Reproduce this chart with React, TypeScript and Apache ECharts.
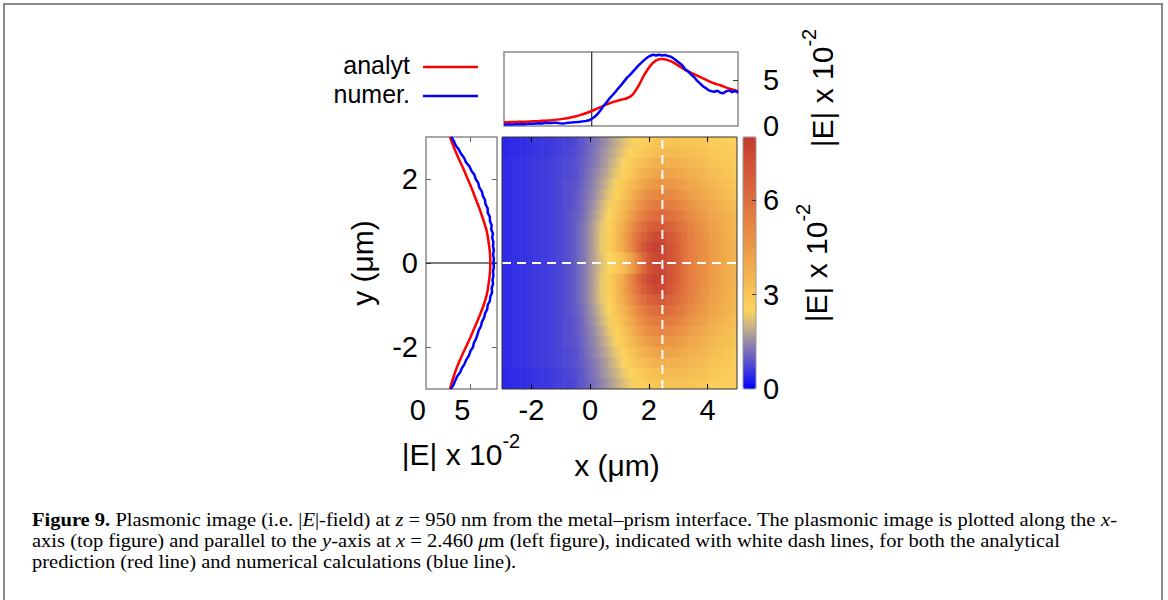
import React, { useEffect, useRef } from 'react';
import * as echarts from 'echarts';

// Grid of the |E| map: cell centres (µm) and values (×10^-2), rows listed top to bottom.
const X_CENTERS = [
  -2.875, -2.625, -2.375, -2.125, -1.875, -1.625, -1.375, -1.125, -0.875, -0.625, -0.375, -0.125,
  0.125, 0.375, 0.625, 0.875, 1.125, 1.375, 1.625, 1.875, 2.125, 2.375, 2.625, 2.875,
  3.125, 3.375, 3.625, 3.875, 4.125, 4.375, 4.625, 4.875,
];
const Y_ROWS = [
  2.875, 2.625, 2.375, 2.125, 1.875, 1.625, 1.375, 1.125, 0.875, 0.625, 0.375, 0.125,
  -0.125, -0.375, -0.625, -0.875, -1.125, -1.375, -1.625, -1.875, -2.125, -2.375, -2.625, -2.875,
];
const FIELD_ROWS: number[][] = [
  [0.4, 0.45, 0.45, 0.5, 0.55, 0.55, 0.6, 0.65, 0.7, 0.7, 0.85, 1.0, 1.2, 1.4, 1.65, 1.9, 2.15, 2.4, 2.6, 2.8, 2.95, 3.05, 3.1, 3.1, 3.1, 3.05, 3.0, 2.95, 2.85, 2.8, 2.7, 2.65],
  [0.4, 0.45, 0.45, 0.5, 0.55, 0.55, 0.6, 0.65, 0.7, 0.75, 0.85, 1.05, 1.25, 1.5, 1.75, 2.0, 2.3, 2.55, 2.8, 3.0, 3.2, 3.35, 3.4, 3.4, 3.35, 3.3, 3.2, 3.1, 3.0, 2.9, 2.8, 2.75],
  [0.45, 0.5, 0.5, 0.55, 0.6, 0.6, 0.65, 0.7, 0.75, 0.8, 0.9, 1.1, 1.3, 1.55, 1.85, 2.15, 2.45, 2.8, 3.1, 3.4, 3.6, 3.75, 3.8, 3.75, 3.65, 3.55, 3.4, 3.3, 3.15, 3.05, 2.95, 2.85],
  [0.45, 0.5, 0.5, 0.55, 0.6, 0.6, 0.65, 0.7, 0.75, 0.8, 0.9, 1.15, 1.4, 1.65, 1.95, 2.3, 2.65, 3.05, 3.45, 3.8, 4.05, 4.2, 4.2, 4.1, 3.95, 3.8, 3.65, 3.5, 3.35, 3.2, 3.05, 2.95],
  [0.45, 0.5, 0.5, 0.55, 0.6, 0.6, 0.65, 0.7, 0.8, 0.85, 0.95, 1.2, 1.45, 1.75, 2.1, 2.45, 2.9, 3.35, 3.8, 4.2, 4.5, 4.65, 4.65, 4.5, 4.3, 4.1, 3.9, 3.7, 3.55, 3.35, 3.2, 3.05],
  [0.45, 0.5, 0.5, 0.55, 0.6, 0.6, 0.65, 0.7, 0.8, 0.85, 1.0, 1.25, 1.5, 1.85, 2.25, 2.65, 3.1, 3.65, 4.2, 4.7, 5.0, 5.15, 5.1, 4.9, 4.65, 4.4, 4.15, 3.95, 3.75, 3.55, 3.35, 3.2],
  [0.45, 0.5, 0.5, 0.55, 0.6, 0.6, 0.65, 0.7, 0.8, 0.85, 1.0, 1.3, 1.6, 2.0, 2.4, 2.85, 3.35, 3.95, 4.6, 5.15, 5.5, 5.65, 5.6, 5.35, 5.05, 4.75, 4.45, 4.2, 3.95, 3.75, 3.55, 3.35],
  [0.45, 0.5, 0.5, 0.55, 0.6, 0.6, 0.65, 0.7, 0.8, 0.9, 1.05, 1.35, 1.7, 2.1, 2.5, 3.0, 3.6, 4.3, 5.0, 5.6, 6.05, 6.2, 6.1, 5.8, 5.45, 5.05, 4.7, 4.4, 4.15, 3.9, 3.7, 3.5],
  [0.45, 0.5, 0.5, 0.55, 0.6, 0.6, 0.65, 0.7, 0.8, 0.9, 1.1, 1.4, 1.8, 2.25, 2.65, 3.2, 3.9, 4.7, 5.5, 6.2, 6.65, 6.8, 6.65, 6.25, 5.8, 5.35, 4.95, 4.6, 4.3, 4.0, 3.8, 3.6],
  [0.45, 0.5, 0.5, 0.55, 0.6, 0.6, 0.65, 0.7, 0.8, 0.9, 1.1, 1.4, 1.8, 2.3, 2.7, 3.3, 4.1, 5.0, 6.0, 6.8, 7.4, 7.5, 7.2, 6.6, 6.0, 5.5, 5.1, 4.7, 4.4, 4.1, 3.85, 3.65],
  [0.45, 0.5, 0.5, 0.55, 0.6, 0.6, 0.65, 0.7, 0.8, 0.9, 1.1, 1.4, 1.8, 2.3, 2.7, 3.3, 4.0, 5.0, 6.2, 7.2, 7.75, 7.7, 7.35, 6.8, 6.1, 5.55, 5.15, 4.8, 4.45, 4.15, 3.9, 3.7],
  [0.45, 0.5, 0.5, 0.55, 0.6, 0.6, 0.65, 0.7, 0.8, 0.9, 1.1, 1.4, 1.8, 2.2, 2.5, 2.85, 3.3, 4.1, 5.3, 6.6, 7.4, 7.55, 7.3, 6.8, 6.1, 5.55, 5.15, 4.8, 4.45, 4.15, 3.9, 3.7],
  [0.45, 0.5, 0.5, 0.55, 0.6, 0.6, 0.65, 0.7, 0.8, 0.9, 1.1, 1.4, 1.8, 2.2, 2.5, 2.85, 3.3, 4.1, 5.3, 6.6, 7.4, 7.55, 7.3, 6.8, 6.1, 5.55, 5.15, 4.8, 4.45, 4.15, 3.9, 3.7],
  [0.45, 0.5, 0.5, 0.55, 0.6, 0.6, 0.65, 0.7, 0.8, 0.9, 1.1, 1.4, 1.8, 2.3, 2.7, 3.3, 4.0, 5.0, 6.2, 7.2, 7.75, 7.7, 7.35, 6.8, 6.1, 5.55, 5.15, 4.8, 4.45, 4.15, 3.9, 3.7],
  [0.45, 0.5, 0.5, 0.55, 0.6, 0.6, 0.65, 0.7, 0.8, 0.9, 1.1, 1.4, 1.8, 2.3, 2.7, 3.3, 4.1, 5.0, 6.0, 6.8, 7.4, 7.5, 7.2, 6.6, 6.0, 5.5, 5.1, 4.7, 4.4, 4.1, 3.85, 3.65],
  [0.45, 0.5, 0.5, 0.55, 0.6, 0.6, 0.65, 0.7, 0.8, 0.9, 1.1, 1.4, 1.8, 2.25, 2.65, 3.2, 3.9, 4.7, 5.5, 6.2, 6.65, 6.8, 6.65, 6.25, 5.8, 5.35, 4.95, 4.6, 4.3, 4.0, 3.8, 3.6],
  [0.45, 0.5, 0.5, 0.55, 0.6, 0.6, 0.65, 0.7, 0.8, 0.9, 1.05, 1.35, 1.7, 2.1, 2.5, 3.0, 3.6, 4.3, 5.0, 5.6, 6.05, 6.2, 6.1, 5.8, 5.45, 5.05, 4.7, 4.4, 4.15, 3.9, 3.7, 3.5],
  [0.45, 0.5, 0.5, 0.55, 0.6, 0.6, 0.65, 0.7, 0.8, 0.85, 1.0, 1.3, 1.6, 2.0, 2.4, 2.85, 3.35, 3.95, 4.6, 5.15, 5.5, 5.65, 5.6, 5.35, 5.05, 4.75, 4.45, 4.2, 3.95, 3.75, 3.55, 3.35],
  [0.45, 0.5, 0.5, 0.55, 0.6, 0.6, 0.65, 0.7, 0.8, 0.85, 1.0, 1.25, 1.5, 1.85, 2.25, 2.65, 3.1, 3.65, 4.2, 4.7, 5.0, 5.15, 5.1, 4.9, 4.65, 4.4, 4.15, 3.95, 3.75, 3.55, 3.35, 3.2],
  [0.45, 0.5, 0.5, 0.55, 0.6, 0.6, 0.65, 0.7, 0.8, 0.85, 0.95, 1.2, 1.45, 1.75, 2.1, 2.45, 2.9, 3.35, 3.8, 4.2, 4.5, 4.65, 4.65, 4.5, 4.3, 4.1, 3.9, 3.7, 3.55, 3.35, 3.2, 3.05],
  [0.45, 0.5, 0.5, 0.55, 0.6, 0.6, 0.65, 0.7, 0.75, 0.8, 0.9, 1.15, 1.4, 1.65, 1.95, 2.3, 2.65, 3.05, 3.45, 3.8, 4.05, 4.2, 4.2, 4.1, 3.95, 3.8, 3.65, 3.5, 3.35, 3.2, 3.05, 2.95],
  [0.45, 0.5, 0.5, 0.55, 0.6, 0.6, 0.65, 0.7, 0.75, 0.8, 0.9, 1.1, 1.3, 1.55, 1.85, 2.15, 2.45, 2.8, 3.1, 3.4, 3.6, 3.75, 3.8, 3.75, 3.65, 3.55, 3.4, 3.3, 3.15, 3.05, 2.95, 2.85],
  [0.4, 0.45, 0.45, 0.5, 0.55, 0.55, 0.6, 0.65, 0.7, 0.75, 0.85, 1.05, 1.25, 1.5, 1.75, 2.0, 2.3, 2.55, 2.8, 3.0, 3.2, 3.35, 3.4, 3.4, 3.35, 3.3, 3.2, 3.1, 3.0, 2.9, 2.8, 2.75],
  [0.4, 0.45, 0.45, 0.5, 0.55, 0.55, 0.6, 0.65, 0.7, 0.7, 0.85, 1.0, 1.2, 1.4, 1.65, 1.9, 2.15, 2.4, 2.6, 2.8, 2.95, 3.05, 3.1, 3.1, 3.1, 3.05, 3.0, 2.95, 2.85, 2.8, 2.7, 2.65],
];

// Map extent (µm) and colour scale for |E| (0 … 8 ×10^-2), evenly spaced stops.
const X_RANGE = [-3, 5];
const Y_RANGE = [-3, 3];
const E_RANGE = [0, 8];
const COLOR_STOPS = [
  '#0000ff', '#3430e4', '#675fc4', '#988aa8', '#cbb486', '#fdd55d', '#f8c656', '#f4b750',
  '#f0a84b', '#ec9946', '#e88a43', '#e47c40', '#df6e3d', '#d9613a', '#d35537', '#cb4833', '#c23b2e',
];

// Cut positions marked by the white dashed lines.
const CUT_X = 2.46;
const CUT_Y = 0;

// Profile along x at y = 0 (top panel).
const TOP_ANALYT_X = [
  -3, -2.8, -2.6, -2.4, -2.2, -2, -1.8, -1.6, -1.4, -1.2, -1, -0.8, -0.6, -0.4, -0.2, 0,
  0.2, 0.4, 0.6, 0.8, 1, 1.2, 1.4, 1.6, 1.8, 2, 2.2, 2.4, 2.6, 2.8, 3, 3.2, 3.4, 3.6, 3.8, 4,
  4.2, 4.4, 4.6, 4.8, 5,
];
const TOP_ANALYT = [
  0.4, 0.42, 0.44, 0.46, 0.48, 0.51, 0.54, 0.58, 0.63, 0.69, 0.77, 0.87, 1.0, 1.17, 1.38, 1.62,
  1.9, 2.18, 2.45, 2.66, 2.83, 3.0, 3.4, 4.35, 5.55, 6.5, 7.1, 7.25, 7.12, 6.85, 6.45, 6.05, 5.75, 5.45, 5.15, 4.85,
  4.6, 4.4, 4.15, 3.95, 3.75,
];
const TOP_NUMER_X = [
  -3, -2.9, -2.8, -2.7, -2.6, -2.5, -2.4, -2.3, -2.2, -2.1,
  -2, -1.9, -1.8, -1.7, -1.6, -1.5, -1.4, -1.3, -1.2, -1.1,
  -1, -0.9, -0.8, -0.7, -0.6, -0.5, -0.4, -0.3, -0.2, -0.1,
  0, 0.1, 0.2, 0.3, 0.4, 0.5, 0.6, 0.7, 0.8, 0.9,
  1, 1.1, 1.2, 1.3, 1.4, 1.5, 1.6, 1.7, 1.8, 1.9,
  2, 2.1, 2.2, 2.3, 2.4, 2.5, 2.6, 2.7, 2.8, 2.9,
  3, 3.1, 3.2, 3.3, 3.4, 3.5, 3.6, 3.7, 3.8, 3.9,
  4, 4.1, 4.2, 4.3, 4.4, 4.5, 4.6, 4.7, 4.8, 4.9, 5,
];
const TOP_NUMER = [
  0.15, 0.16, 0.18, 0.17, 0.2, 0.19, 0.22, 0.2, 0.23, 0.25,
  0.24, 0.27, 0.3, 0.28, 0.32, 0.35, 0.33, 0.36, 0.34, 0.3,
  0.28, 0.31, 0.35, 0.37, 0.4, 0.42, 0.45, 0.5, 0.55, 0.62,
  0.78, 1.0, 1.3, 1.7, 2.15, 2.55, 2.95, 3.3, 3.65, 4.05,
  4.4, 4.8, 5.2, 5.5, 5.85, 6.2, 6.55, 6.85, 7.15, 7.4,
  7.6, 7.7, 7.62, 7.7, 7.62, 7.68, 7.58, 7.5, 7.3, 7.05,
  6.8, 6.55, 6.1, 5.9, 5.55, 5.3, 4.9, 4.6, 4.3, 4.1,
  3.85, 3.75, 3.7, 3.82, 3.6, 3.55, 3.75, 3.85, 3.65, 3.8, 3.6,
];

// Profile along y at x = 2.460 µm (left panel).
const LEFT_ANALYT_Y = [
  -3, -2.75, -2.5, -2.25, -2, -1.75, -1.5, -1.25, -1, -0.75, -0.5, -0.25, 0,
  0.25, 0.5, 0.75, 1, 1.25, 1.5, 1.75, 2, 2.25, 2.5, 2.75, 3,
];
const LEFT_ANALYT = [
  2.7, 3.05, 3.45, 3.95, 4.5, 5.05, 5.55, 6.05, 6.5, 6.85, 7.05, 7.2, 7.25,
  7.2, 7.05, 6.85, 6.5, 6.1, 5.65, 5.2, 4.7, 4.2, 3.65, 3.15, 2.7,
];
const LEFT_NUMER_Y = [
  -3, -2.9, -2.8, -2.7, -2.6, -2.5, -2.4, -2.3, -2.2, -2.1,
  -2, -1.9, -1.8, -1.7, -1.6, -1.5, -1.4, -1.3, -1.2, -1.1,
  -1, -0.9, -0.8, -0.7, -0.6, -0.5, -0.4, -0.3, -0.2, -0.1,
  0, 0.1, 0.2, 0.3, 0.4, 0.5, 0.6, 0.7, 0.8, 0.9,
  1, 1.1, 1.2, 1.3, 1.4, 1.5, 1.6, 1.7, 1.8, 1.9,
  2, 2.1, 2.2, 2.3, 2.4, 2.5, 2.6, 2.7, 2.8, 2.9, 3,
];
const LEFT_NUMER = [
  2.8, 3.1, 3.3, 3.5, 3.85, 4.05, 4.35, 4.55, 4.85, 5.0,
  5.3, 5.4, 5.65, 5.8, 5.95, 6.2, 6.3, 6.55, 6.65, 6.9,
  6.95, 7.2, 7.25, 7.45, 7.4, 7.55, 7.5, 7.6, 7.55, 7.65,
  7.6, 7.65, 7.55, 7.65, 7.55, 7.6, 7.45, 7.55, 7.35, 7.4,
  7.2, 7.2, 6.95, 6.95, 6.7, 6.65, 6.4, 6.3, 6.0, 5.9,
  5.6, 5.45, 5.1, 4.9, 4.5, 4.3, 3.95, 3.7, 3.35, 3.15, 2.85,
];

// Tick positions.
const MAP_X_TICKS = [-2, 0, 2, 4];
const MAP_Y_TICKS = [-2, 0, 2];
const TOP_E_TICKS = [0, 5];
const LEFT_E_TICKS = [0, 5];
const CBAR_TICKS = [0, 3, 6];

const SANS = "'Liberation Sans', Arial, sans-serif";
const SERIF = "'Liberation Serif', 'Times New Roman', serif";
const RED = '#ff0000';
const BLUE = '#0000ff';

const pairs = (xs: number[], ys: number[]) => xs.map((x, i) => [x, ys[i]]);

const tickLabel = { color: '#000', fontSize: 29, fontFamily: SANS };
const noLine = { show: false, onZero: false };

const eColor = (v: number) =>
  echarts.color.lerp((v - E_RANGE[0]) / (E_RANGE[1] - E_RANGE[0]), COLOR_STOPS) as string;

// Map strips: each item spans two neighbouring cell centres in a row and is shaded
// between their colours; the outermost half cells keep their own value.
function buildMapItems() {
  const items: number[][] = [];
  FIELD_ROWS.forEach((row, j) => {
    const y = Y_ROWS[j];
    const last = row.length - 1;
    items.push([X_RANGE[0], X_CENTERS[0], y, row[0], row[0]]);
    for (let i = 0; i < last; i++) {
      items.push([X_CENTERS[i], X_CENTERS[i + 1], y, row[i], row[i + 1]]);
    }
    items.push([X_CENTERS[last], X_RANGE[1], y, row[last], row[last]]);
  });
  return items;
}

function buildOption() {
  const halfRow = Math.abs(Y_ROWS[0] - Y_ROWS[1]) / 2;

  const eTitle = (x: number, y: number, rotated: boolean) => ({
    type: 'text',
    x,
    y,
    rotation: rotated ? Math.PI / 2 : 0,
    style: {
      text: '{a||E| x 10}{s|-2}',
      align: 'center',
      verticalAlign: 'middle',
      fill: '#000',
      rich: {
        a: { fontSize: 30, lineHeight: 46, fontFamily: SANS, fill: '#000' },
        s: { fontSize: 20, verticalAlign: 'top', fontFamily: SANS, fill: '#000' },
      },
    },
  });

  return {
    animation: false,
    textStyle: { fontFamily: SANS },
    grid: [
      { left: 502, top: 137, width: 235, height: 252, show: true, borderColor: '#333', borderWidth: 1, backgroundColor: 'transparent', z: 6 },
      { left: 504, top: 52, width: 234, height: 74, show: true, borderColor: '#8a8a8a', borderWidth: 1.5, backgroundColor: 'transparent' },
      { left: 426, top: 137, width: 71, height: 252, show: true, borderColor: '#8a8a8a', borderWidth: 1.5, backgroundColor: 'transparent' },
      { left: 743, top: 137, width: 13, height: 252, show: true, borderColor: '#999', borderWidth: 1, backgroundColor: 'transparent', z: 6 },
    ],
    xAxis: [
      {
        type: 'value', gridIndex: 0, min: X_RANGE[0], max: X_RANGE[1], position: 'bottom', z: 7,
        axisLine: noLine, splitLine: { show: false },
        axisTick: { inside: true, length: 5, customValues: MAP_X_TICKS, lineStyle: { color: '#000' } },
        axisLabel: { ...tickLabel, margin: 6, customValues: MAP_X_TICKS },
      },
      {
        type: 'value', gridIndex: 0, min: X_RANGE[0], max: X_RANGE[1], position: 'top', z: 7,
        axisLine: noLine, splitLine: { show: false },
        axisTick: { inside: true, length: 5, customValues: MAP_X_TICKS, lineStyle: { color: '#000' } },
        axisLabel: { show: false },
      },
      { type: 'value', gridIndex: 1, min: X_RANGE[0], max: X_RANGE[1], show: false, axisLine: noLine },
      {
        type: 'value', gridIndex: 2, min: E_RANGE[0], max: E_RANGE[1], position: 'bottom',
        axisLine: noLine, splitLine: { show: false },
        axisTick: { inside: true, length: 5, customValues: [5], lineStyle: { color: '#666' } },
        axisLabel: { ...tickLabel, margin: 6, align: 'right', customValues: LEFT_E_TICKS },
      },
      {
        type: 'value', gridIndex: 2, min: E_RANGE[0], max: E_RANGE[1], position: 'top',
        axisLine: noLine, splitLine: { show: false },
        axisTick: { inside: true, length: 5, customValues: [5], lineStyle: { color: '#666' } },
        axisLabel: { show: false },
      },
      { type: 'value', gridIndex: 3, min: 0, max: 1, show: false, axisLine: noLine },
    ],
    yAxis: [
      {
        type: 'value', gridIndex: 0, min: Y_RANGE[0], max: Y_RANGE[1], position: 'left',
        axisLine: noLine, splitLine: { show: false }, axisTick: { show: false }, axisLabel: { show: false },
      },
      {
        type: 'value', gridIndex: 1, min: E_RANGE[0], max: E_RANGE[1], position: 'right',
        axisLine: noLine, splitLine: { show: false },
        axisTick: { inside: true, length: 5, customValues: [5], lineStyle: { color: '#333' } },
        axisLabel: { ...tickLabel, margin: 25, align: 'left', customValues: TOP_E_TICKS },
      },
      {
        type: 'value', gridIndex: 2, min: Y_RANGE[0], max: Y_RANGE[1], position: 'left',
        axisLine: noLine, splitLine: { show: false },
        axisTick: { inside: true, length: 5, customValues: MAP_Y_TICKS, lineStyle: { color: '#666' } },
        axisLabel: { ...tickLabel, margin: 8, customValues: MAP_Y_TICKS },
      },
      {
        type: 'value', gridIndex: 2, min: Y_RANGE[0], max: Y_RANGE[1], position: 'right',
        axisLine: noLine, splitLine: { show: false },
        axisTick: { inside: true, length: 5, customValues: MAP_Y_TICKS, lineStyle: { color: '#666' } },
        axisLabel: { show: false },
      },
      {
        type: 'value', gridIndex: 3, min: E_RANGE[0], max: E_RANGE[1], position: 'right', z: 7,
        axisLine: noLine, splitLine: { show: false },
        axisTick: { inside: true, length: 4, customValues: [3, 6], lineStyle: { color: '#333' } },
        axisLabel: { ...tickLabel, margin: 7, align: 'left', customValues: CBAR_TICKS },
      },
    ],
    visualMap: {
      type: 'continuous',
      seriesIndex: 0,
      dimension: 3,
      min: E_RANGE[0],
      max: E_RANGE[1],
      inRange: { color: COLOR_STOPS },
      orient: 'vertical',
      left: 743,
      top: 137,
      itemWidth: 13,
      itemHeight: 252,
      padding: 0,
      calculable: false,
      hoverLink: false,
      show: true,
    },
    series: [
      {
        type: 'custom', xAxisIndex: 0, yAxisIndex: 0, z: 1, silent: true, clip: true,
        data: buildMapItems(),
        renderItem: (_params: any, api: any) => {
          const x0 = api.value(0);
          const x1 = api.value(1);
          const y = api.value(2);
          const p0 = api.coord([x0, y + halfRow]);
          const p1 = api.coord([x1, y - halfRow]);
          return {
            type: 'rect',
            shape: { x: p0[0], y: p0[1], width: p1[0] - p0[0] + 0.5, height: p1[1] - p0[1] + 0.5 },
            style: {
              fill: new echarts.graphic.LinearGradient(0, 0, 1, 0, [
                { offset: 0, color: eColor(api.value(3)) },
                { offset: 1, color: eColor(api.value(4)) },
              ]),
            },
          };
        },
      },
      {
        type: 'line', xAxisIndex: 0, yAxisIndex: 0, z: 4, symbol: 'none', silent: true,
        data: [[CUT_X, Y_RANGE[0]], [CUT_X, Y_RANGE[1]]],
        lineStyle: { color: '#ffffff', width: 2, type: [9, 6] },
      },
      {
        type: 'line', xAxisIndex: 0, yAxisIndex: 0, z: 4, symbol: 'none', silent: true,
        data: [[X_RANGE[0], CUT_Y], [X_RANGE[1], CUT_Y]],
        lineStyle: { color: '#ffffff', width: 2, type: [9, 6] },
      },
      {
        type: 'line', xAxisIndex: 2, yAxisIndex: 1, symbol: 'none', silent: true,
        data: [[0, E_RANGE[0]], [0, E_RANGE[1]]], lineStyle: { color: '#000', width: 1 },
      },
      {
        name: 'analyt', type: 'line', xAxisIndex: 2, yAxisIndex: 1, symbol: 'none', smooth: 0.3,
        data: pairs(TOP_ANALYT_X, TOP_ANALYT), lineStyle: { color: RED, width: 2.5 },
      },
      {
        name: 'numer.', type: 'line', xAxisIndex: 2, yAxisIndex: 1, symbol: 'none',
        data: pairs(TOP_NUMER_X, TOP_NUMER), lineStyle: { color: BLUE, width: 2.5 },
      },
      {
        type: 'line', xAxisIndex: 3, yAxisIndex: 2, symbol: 'none', silent: true,
        data: [[E_RANGE[0], CUT_Y], [E_RANGE[1], CUT_Y]], lineStyle: { color: '#000', width: 1 },
      },
      {
        name: 'analyt', type: 'line', xAxisIndex: 3, yAxisIndex: 2, symbol: 'none', smooth: 0.3,
        data: pairs(LEFT_ANALYT, LEFT_ANALYT_Y), lineStyle: { color: RED, width: 2.5 },
      },
      {
        name: 'numer.', type: 'line', xAxisIndex: 3, yAxisIndex: 2, symbol: 'none',
        data: pairs(LEFT_NUMER, LEFT_NUMER_Y), lineStyle: { color: BLUE, width: 2.5 },
      },
    ],
    graphic: [
      {
        type: 'rect', z: 0, silent: true,
        shape: { x: 4, y: 4, width: 1158, height: 640 },
        style: { fill: 'none', stroke: '#8c8c8c', lineWidth: 2 },
      },
      // legend
      { type: 'text', x: 410, y: 65, style: { text: 'analyt', align: 'right', verticalAlign: 'middle', fontSize: 25, fontFamily: SANS, fill: '#000' } },
      { type: 'line', shape: { x1: 423, y1: 67, x2: 478, y2: 67 }, style: { stroke: RED, lineWidth: 2.5 } },
      { type: 'text', x: 410, y: 94, style: { text: 'numer.', align: 'right', verticalAlign: 'middle', fontSize: 25, fontFamily: SANS, fill: '#000' } },
      { type: 'line', shape: { x1: 423, y1: 96, x2: 478, y2: 96 }, style: { stroke: BLUE, lineWidth: 2.5 } },
      // axis titles
      { type: 'text', x: 362, y: 263, rotation: Math.PI / 2, style: { text: 'y (μm)', align: 'center', verticalAlign: 'middle', fontSize: 30, fontFamily: SANS, fill: '#000' } },
      { type: 'text', x: 617, y: 465, style: { text: 'x (μm)', align: 'center', verticalAlign: 'middle', fontSize: 30, fontFamily: SANS, fill: '#000' } },
      eTitle(461, 454, false),
      eTitle(816, 263, true),
      eTitle(822, 88, true),
      // caption
      {
        type: 'text', x: 32, y: 509, scaleX: 1.08,
        style: {
          text:
            '{b|Figure 9.} Plasmonic image (i.e. |{i|E}|-field) at {i|z} = 950 nm from the metal–prism interface. The plasmonic image is plotted along the {i|x}-\n' +
            'axis (top figure) and parallel to the {i|y}-axis at {i|x} = 2.460 {i|μ}m (left figure), indicated with white dash lines, for both the analytical\n' +
            'prediction (red line) and numerical calculations (blue line).',
          fontSize: 19,
          fontFamily: SERIF,
          lineHeight: 21,
          fill: '#000',
          verticalAlign: 'top',
          rich: {
            b: { fontWeight: 'bold', fontSize: 19, fontFamily: SERIF, lineHeight: 21, fill: '#000' },
            i: { fontStyle: 'italic', fontSize: 19, fontFamily: SERIF, lineHeight: 21, fill: '#000' },
          },
        },
      },
    ],
  };
}

export default function App() {
  const ref = useRef<HTMLDivElement>(null);
  useEffect(() => {
    if (!ref.current) return;
    const chart = echarts.init(ref.current, null, { renderer: 'svg' });
    chart.setOption(buildOption() as any);
    return () => chart.dispose();
  }, []);
  return (
    <div
      ref={ref}
      style={{ position: 'fixed', left: 0, top: 0, width: 1168, height: 600, background: '#fff' }}
    />
  );
}
